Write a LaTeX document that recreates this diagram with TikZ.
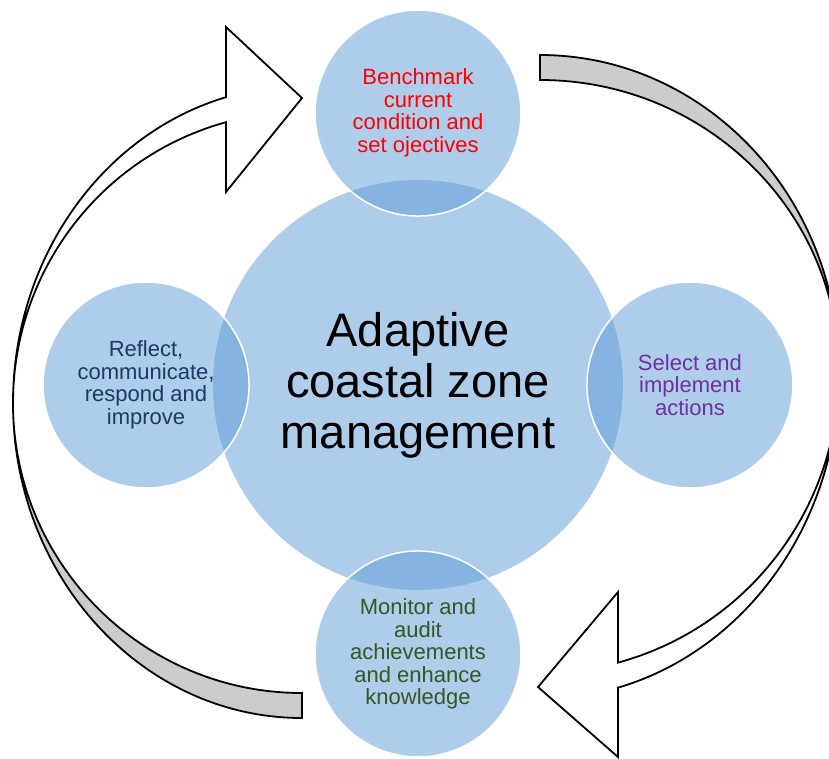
\documentclass[tikz,border=0pt]{standalone}
\usepackage{fontspec}
\setmainfont{Liberation Sans}
\usepackage{xcolor}
\usetikzlibrary{positioning}

\definecolor{discblue}{HTML}{5B9BD5}
\definecolor{bandgray}{HTML}{CCCCCC}
\definecolor{benchred}{HTML}{FF0000}
\definecolor{selectpurple}{HTML}{7030A0}
\definecolor{monitorgreen}{HTML}{375623}
\definecolor{reflectnavy}{HTML}{1F3864}

\begin{document}
\begin{tikzpicture}[
    x=1pt, y=-1pt,
    node distance=-37pt,
    disc/.style={circle, fill=discblue, fill opacity=0.5, text opacity=1, inner sep=0pt, align=center},
    hubdisc/.style={disc, minimum size=410pt, font=\fontsize{47}{51}\selectfont},
    stagedisc/.style={disc, draw=white, line width=1.5pt, minimum size=206pt, font=\fontsize{22}{22.5}\selectfont},
    band/.style={draw=black, line width=1.8pt, line join=miter},
    backband/.style={band, fill=bandgray},
    frontband/.style={band, fill=white}
]
\useasboundingbox (0,0) rectangle (829,758);
\clip (0,0) rectangle (829,758);

% --- hub ---
\node[hubdisc] (hub) at (418,385) {Adaptive\\coastal zone\\management};

% --- the four stages, overlapping the hub ---
\node[stagedisc, text=benchred, above=of hub] (benchmark) {Benchmark\\current\\condition and\\set ojectives};
\node[stagedisc, text=selectpurple, right=of hub] (select) {Select and\\implement\\actions};
\node[stagedisc, text=monitorgreen, below=-40pt of hub] (monitor) {Monitor and\\audit\\achievements\\and enhance\\knowledge};
\node[stagedisc, text=reflectnavy, left=of hub] (reflect) {Reflect,\\communicate,\\respond and\\improve};

% --- right turning arrow: grey back face, then white front face with head ---
\draw[backband] (540,55) arc[start angle=-90, end angle=0, x radius=299, y radius=317]
    arc[start angle=0, end angle=-90, x radius=299, y radius=292] -- cycle;
\draw[frontband] (839,372) arc[start angle=0, end angle=74.88, x radius=299, y radius=327]
    -- (618,757) -- (538,687) -- (618,592) -- (618,662.6)
    arc[start angle=74.88, end angle=0, x radius=299, y radius=301] -- cycle;

% --- left turning arrow ---
\draw[backband] (302,718) arc[start angle=90, end angle=180, x radius=289, y radius=315]
    arc[start angle=180, end angle=90, x radius=289, y radius=290] -- cycle;
\draw[frontband] (13,403) arc[start angle=180, end angle=254.75, x radius=289, y radius=317]
    -- (226,27) -- (302,98) -- (226,192) -- (226,122.2)
    arc[start angle=254.75, end angle=180, x radius=289, y radius=291] -- cycle;

\end{tikzpicture}
\end{document}
